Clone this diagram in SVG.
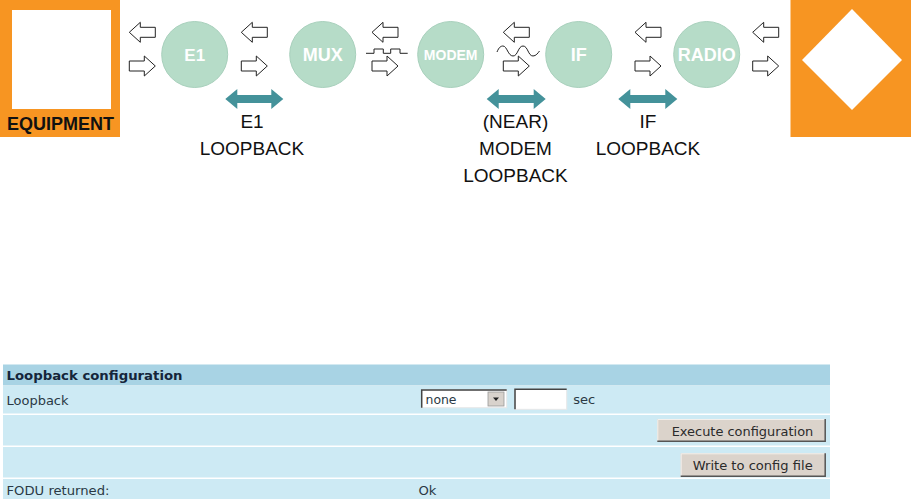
<svg xmlns="http://www.w3.org/2000/svg" width="911" height="504" viewBox="0 0 911 504">
<style>
.node{fill:#b6dcc8;stroke:#a8d0bc;stroke-width:1}
.nlab{font-family:"Liberation Sans",Arial,sans-serif;font-weight:bold;fill:#ffffff;text-anchor:middle}
.oarr{fill:#ffffff;stroke:#222;stroke-width:1;stroke-linejoin:miter}
.lb{fill:#44929a}
.lbl{font-family:"Liberation Sans",Arial,sans-serif;font-size:19px;fill:#111;text-anchor:middle}
.sig{fill:none;stroke:#222;stroke-width:1}
.tt{font-family:"DejaVu Sans",Verdana,sans-serif;font-size:12px;fill:#2a3944}
.th{font-family:"DejaVu Sans",Verdana,sans-serif;font-size:12px;font-weight:bold;fill:#14253a}
.btn{fill:#dbd3cb}
.bt{font-family:"DejaVu Sans",Verdana,sans-serif;font-size:12px;fill:#2b2b2b}
</style>
<defs>
<path id="la" d="M0,0 L11,-10 L11,-5 L26,-5 L26,5 L11,5 L11,10 Z"/>
<path id="ra" d="M0,-5 L15,-5 L15,-10 L26,0 L15,10 L15,5 L0,5 Z"/>
</defs>
<rect width="911" height="504" fill="#ffffff"/>

<g id="equipment">
<rect x="0" y="0" width="120" height="137" fill="#f79522"/>
<rect x="12" y="10" width="99" height="99" fill="#ffffff"/>
<text x="60.5" y="130" font-family="Liberation Sans,Arial,sans-serif" font-size="18" font-weight="bold" fill="#111" text-anchor="middle">EQUIPMENT</text>
</g>

<g id="antenna">
<rect x="790.5" y="0" width="120.5" height="137" fill="#f79522"/>
<polygon points="852,9 902,60 852,110 802,60" fill="#ffffff"/>
</g>

<g id="n-e1"><circle class="node" cx="194.7" cy="54.5" r="33"/><text class="nlab" x="194.7" y="61" font-size="17">E1</text></g>
<g id="n-mux"><circle class="node" cx="322.7" cy="54.5" r="33"/><text class="nlab" x="322.7" y="61" font-size="18">MUX</text></g>
<g id="n-modem"><circle class="node" cx="450.7" cy="54.5" r="33"/><text class="nlab" x="450.7" y="59.5" font-size="14">MODEM</text></g>
<g id="n-if"><circle class="node" cx="578.7" cy="54.5" r="33"/><text class="nlab" x="578.7" y="61" font-size="18">IF</text></g>
<g id="n-radio"><circle class="node" cx="706.7" cy="54.5" r="33"/><text class="nlab" x="706.7" y="61" font-size="18">RADIO</text></g>

<g id="connectors">
<use href="#la" class="oarr" x="129.3" y="32.3"/><use href="#ra" class="oarr" x="129.3" y="66"/>
<use href="#la" class="oarr" x="241.3" y="32.3"/><use href="#ra" class="oarr" x="241.3" y="66"/>
<use href="#la" class="oarr" x="372" y="32.3"/><use href="#ra" class="oarr" x="372" y="66"/>
<use href="#la" class="oarr" x="503.3" y="32.3"/><use href="#ra" class="oarr" x="503.3" y="66"/>
<use href="#la" class="oarr" x="635" y="32.3"/><use href="#ra" class="oarr" x="635" y="66"/>
<use href="#la" class="oarr" x="752.7" y="32.3"/><use href="#ra" class="oarr" x="752.7" y="66"/>
<path class="sig" d="M366,53.3 H374 V49 H383.3 V53.3 H390.7 V49 H400 V53.3 H407.7"/>
<path class="sig" d="M497,52 C499,47 501,46 503,46 C507,46 508,56 513,56 C518,56 518,46 523,46 C528,46 528,56 533,56 C536,56 538,53 539.5,51"/>
</g>

<g id="loop-e1">
<path class="lb" d="M225.3,99 L237.3,89 L237.3,95 L271.3,95 L271.3,89 L283.3,99 L271.3,109 L271.3,103 L237.3,103 L237.3,109 Z"/>
<text class="lbl" x="252" y="128">E1</text>
<text class="lbl" x="252" y="155">LOOPBACK</text>
</g>
<g id="loop-modem">
<path class="lb" d="M486.7,99 L498.7,89 L498.7,95 L533.7,95 L533.7,89 L545.7,99 L533.7,109 L533.7,103 L498.7,103 L498.7,109 Z"/>
<text class="lbl" x="515.5" y="128">(NEAR)</text>
<text class="lbl" x="515.5" y="155">MODEM</text>
<text class="lbl" x="515.5" y="182">LOOPBACK</text>
</g>
<g id="loop-if">
<path class="lb" d="M618.3,99 L630.3,89 L630.3,95 L665.3,95 L665.3,89 L677.3,99 L665.3,109 L665.3,103 L630.3,103 L630.3,109 Z"/>
<text class="lbl" x="648" y="128">IF</text>
<text class="lbl" x="648" y="155">LOOPBACK</text>
</g>

<g id="config-table">
<rect x="3" y="364" width="827" height="135" fill="#ffffff"/>
<rect x="3" y="364.5" width="827" height="21" fill="#a8d3e4"/>
<rect x="3" y="386" width="827" height="27.5" fill="#cdeaf4"/>
<rect x="3" y="415" width="827" height="30.5" fill="#cdeaf4"/>
<rect x="3" y="447" width="827" height="30.5" fill="#cdeaf4"/>
<rect x="3" y="479" width="827" height="20" fill="#cdeaf4"/>
<text class="th" x="6.5" y="379.5" textLength="176" lengthAdjust="spacingAndGlyphs">Loopback configuration</text>
<text class="tt" x="6.5" y="405" textLength="62" lengthAdjust="spacingAndGlyphs">Loopback</text>
<text class="tt" x="6.5" y="495" textLength="103" lengthAdjust="spacingAndGlyphs">FODU returned:</text>
<text class="tt" x="418.5" y="495" textLength="18" lengthAdjust="spacingAndGlyphs">Ok</text>

<rect x="421.7" y="390" width="85" height="17.7" fill="#ffffff" stroke="#e8e8e8"/>
<path d="M421.7,407.7 V390 H506.7" fill="none" stroke="#444" stroke-width="1.5"/>
<rect x="488" y="392" width="16" height="14" fill="#d8d2cc" stroke="#9a9a9a" stroke-width="0.8"/>
<polygon points="493,397.5 499,397.5 496,401" fill="#222"/>
<text class="tt" x="425.5" y="403.5" textLength="31" lengthAdjust="spacingAndGlyphs">none</text>

<rect x="515" y="389.3" width="51.7" height="20" fill="#ffffff" stroke="#e8e8e8"/>
<path d="M515,409.3 V389.3 H566.7" fill="none" stroke="#444" stroke-width="1.5"/>
<text class="tt" x="573.3" y="404" textLength="22" lengthAdjust="spacingAndGlyphs">sec</text>

<g id="btn-execute">
<rect class="btn" x="657.3" y="419" width="168.4" height="22.7"/>
<path d="M657.8,441.7 V419.5 H825.7" fill="none" stroke="#f4f0ec" stroke-width="1"/>
<path d="M657.3,441.2 H825.2 V419" fill="none" stroke="#555" stroke-width="1.5"/>
<text class="bt" x="671.7" y="435.5" textLength="141.6" lengthAdjust="spacingAndGlyphs">Execute configuration</text>
</g>
<g id="btn-write">
<rect class="btn" x="680.7" y="453.3" width="145" height="23.4"/>
<path d="M681.2,476.7 V453.8 H825.7" fill="none" stroke="#f4f0ec" stroke-width="1"/>
<path d="M680.7,476.2 H825.2 V453.3" fill="none" stroke="#555" stroke-width="1.5"/>
<text class="bt" x="692.7" y="469.5" textLength="120" lengthAdjust="spacingAndGlyphs">Write to config file</text>
</g>
</g>
</svg>
